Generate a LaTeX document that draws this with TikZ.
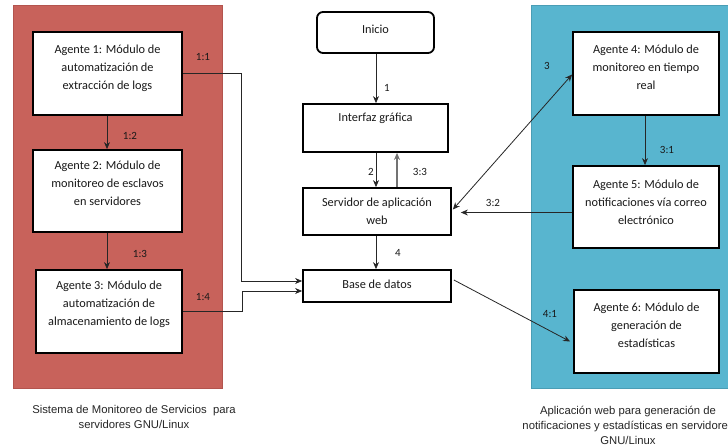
\documentclass[tikz,border=0pt]{standalone}
\usepackage{fontspec}
\setmainfont{Carlito}
\newfontfamily\capfont{Liberation Sans}
\usetikzlibrary{arrows.meta,calc}
\definecolor{redpanel}{HTML}{C8625B}
\definecolor{rededge}{HTML}{B3544E}
\definecolor{bluepanel}{HTML}{58B5CF}
\definecolor{blueedge}{HTML}{4A9DB5}
\tikzset{
  panel/.style={draw, line width=0.8pt},
  box/.style={draw=black, fill=white, line width=1.8pt, inner sep=0pt},
  boxtxt/.style={font=\fontsize{12.3}{17.8}\selectfont, align=center, inner sep=0pt, text=black!90},
  lbl/.style={font=\fontsize{11}{12}\selectfont, inner sep=0pt, text=black!90},
  captxt/.style={font=\capfont\fontsize{11.3}{15}\selectfont, align=center, inner sep=0pt, text=black!85},
  conn/.style={draw=black!85, line width=0.8pt},
  arr/.style={conn, -{Stealth[length=7pt,width=6pt]}},
  darr/.style={conn, {Stealth[length=7pt,width=6pt]}-{Stealth[length=7pt,width=6pt]}},
}
\begin{document}
\begin{tikzpicture}[x=1pt,y=-1pt]
\clip (0,0) rectangle (728,446);
\fill[white] (0,0) rectangle (728,446);
% panels
\draw[panel, draw=rededge, fill=redpanel] (13,5) rectangle (222,388);
\draw[panel, draw=blueedge, fill=bluepanel] (531,5) rectangle (740,388);
% left agents
\node[box, minimum width=149, minimum height=83] (a1) at (107.5,73.5) {};
\node[boxtxt] (a1t) at (107.5,68) {Agente 1: Módulo de\\automatización de\\extracción de logs};
\node[box, minimum width=149, minimum height=82] (a2) at (107.5,191) {};
\node[boxtxt] (a2t) at (107.5,183) {Agente 2: Módulo de\\monitoreo de esclavos\\en servidores};
\node[box, minimum width=146, minimum height=83] (a3) at (109,311.5) {};
\node[boxtxt] (a3t) at (109,304) {Agente 3: Módulo de\\automatización de\\almacenamiento de logs};
% center column
\node[box, rounded corners=6pt, minimum width=117, minimum height=41] (ini) at (375.5,32.5) {};
\node[boxtxt] (init) at (375.5,29) {Inicio};
\node[box, minimum width=145, minimum height=48] (gui) at (375.5,128) {};
\node[boxtxt] (guit) at (375.5,118) {Interfaz gráfica};
\node[box, minimum width=148, minimum height=47] (sv) at (377,211.5) {};
\node[boxtxt] (svt) at (377,211) {Servidor de aplicación\\web};
\node[box, minimum width=148, minimum height=32] (bd) at (377,286) {};
\node[boxtxt] (bdt) at (377,284) {Base de datos};
% right agents
\node[box, minimum width=146, minimum height=83] (a4) at (646,73.5) {};
\node[boxtxt] (a4t) at (646,67) {Agente 4: Módulo de\\monitoreo en tiempo\\real};
\node[box, minimum width=146, minimum height=82] (a5) at (646,207) {};
\node[boxtxt] (a5t) at (646,202) {Agente 5: Módulo de\\notificaciones vía correo\\electrónico};
\node[box, minimum width=145, minimum height=83] (a6) at (646.5,331.5) {};
\node[boxtxt] (a6t) at (646.5,325) {Agente 6: Módulo de\\generación de\\estadísticas};
% left connectors
\coordinate (c12) at (107,0);
\draw[arr] (a1.south -| c12) -- (a2.north -| c12);
\draw[arr] (a2.south -| c12) -- (a3.north -| c12);
\coordinate (bdin1) at ($(bd.west)+(0,-5)$);
\coordinate (bdin2) at ($(bd.west)+(0,5)$);
\draw[arr] (a1.east) -| ($(bdin1)+(-61,0)$) -- (bdin1);
\draw[arr] (a3.east) -| ($(bdin2)+(-60,0)$) -- (bdin2);
% center connectors
\coordinate (cx) at (376,0);
\coordinate (cx2) at (397,0);
\draw[arr] (ini.south -| cx) -- (gui.north -| cx);
\draw[arr] (gui.south -| cx) -- (sv.north -| cx);
\draw[conn, draw=black!55, line width=1.6pt, -{Stealth[length=7pt,width=6pt]}] (sv.north -| cx2) -- (gui.south -| cx2);
\draw[arr] (sv.south -| cx) -- (bd.north -| cx);
% right connectors
\draw[darr] ($(sv.east)+(1,-2)$) -- ($(a4.west)+(0,1)$);
\coordinate (sv32) at ($(sv.east)+(9,1)$);
\draw[arr] (a5.west |- sv32) -- (sv32);
\coordinate (c31) at (645,0);
\draw[arr] (a4.south -| c31) -- (a5.north -| c31);
\draw[arr] ($(bd.east)+(2,-6)$) -- ($(a6.west)+(-3,10)$);
% labels
\node[lbl] (l11) at (203,57) {1:1};
\node[lbl] (l12) at (130,136) {1:2};
\node[lbl] (l13) at (140,254) {1:3};
\node[lbl] (l14) at (203,297) {1:4};
\node[lbl] (l1) at (387,88) {1};
\node[lbl] (l2) at (371,172) {2};
\node[lbl] (l33) at (420,172) {3:3};
\node[lbl] (l4) at (398,253) {4};
\node[lbl] (l3) at (547,66) {3};
\node[lbl] (l32) at (493,203) {3:2};
\node[lbl] (l31) at (667,150) {3:1};
\node[lbl] (l41) at (550,314) {4:1};
% captions
\node[captxt] (capL) at (134,416.5) {Sistema de Monitoreo de Servicios\ \ para\\servidores GNU/Linux};
\node[captxt] (capR) at (628,425.5) {Aplicación web para generación de\\notificaciones y estadísticas en servidores\\GNU/Linux};
\end{tikzpicture}
\end{document}
